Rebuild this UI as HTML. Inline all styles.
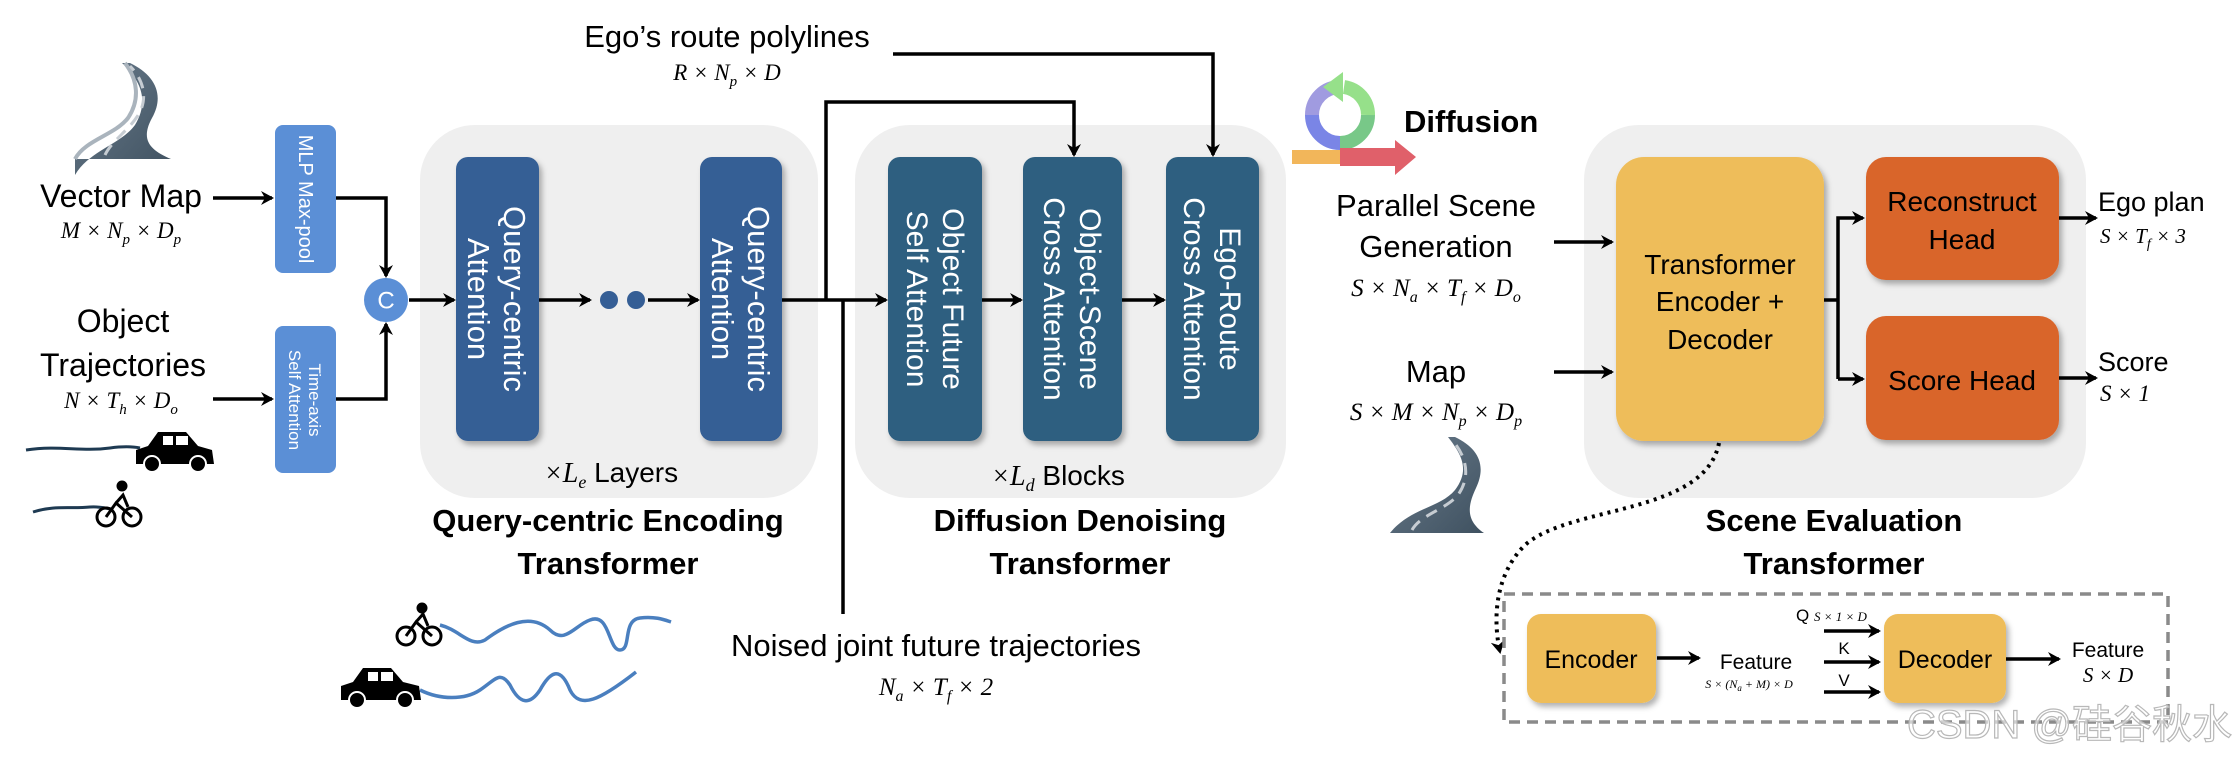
<!DOCTYPE html>
<html><head><meta charset="utf-8"><style>
html,body{margin:0;padding:0;background:#fff}
svg{display:block}
text{font-family:"Liberation Sans",sans-serif}
.m{font-family:"Liberation Serif",serif;font-style:italic}
</style></head><body>
<svg width="2236" height="758" viewBox="0 0 2236 758" xmlns="http://www.w3.org/2000/svg">
<defs>
<marker id="ah" markerWidth="14" markerHeight="14" refX="11" refY="7" orient="auto" markerUnits="userSpaceOnUse"><path d="M0,0 L13,7 L0,14 L4,7 Z" fill="#000"/></marker>
<filter id="sh" x="-10%" y="-10%" width="130%" height="130%"><feDropShadow dx="3" dy="4" stdDeviation="3" flood-color="#000" flood-opacity="0.3"/></filter>
<linearGradient id="rd" x1="0" y1="0" x2="1" y2="1"><stop offset="0" stop-color="#6a7c8c"/><stop offset="1" stop-color="#3f5160"/></linearGradient>
</defs>

<rect x="420" y="125" width="398" height="373" rx="55" fill="#efefef"/>
<rect x="855" y="125" width="431" height="373" rx="55" fill="#efefef"/>
<rect x="1584" y="125" width="502" height="373" rx="55" fill="#efefef"/>

<!-- road icon 1 -->
<g>
<path d="M122,63 C140,80 150,100 135,125 C120,145 90,150 75,175 L75,159 L171,159 C150,150 140,140 152,118 C165,95 155,75 130,63 Z" fill="url(#rd)"/>
<path d="M75,159 C85,140 115,135 128,118 C140,100 138,80 125,63" fill="none" stroke="#aab4bd" stroke-width="4"/>
<path d="M105,155 C112,140 130,130 140,112 C148,95 142,78 130,66" fill="none" stroke="#c6ccd2" stroke-width="3" stroke-dasharray="12,8"/>
</g>

<text x="121" y="207" font-size="32" text-anchor="middle">Vector Map</text>
<text x="121" y="238" font-size="23" text-anchor="middle" class="m">M × N<tspan font-size="15" dy="6">p</tspan><tspan dy="-6"> × D</tspan><tspan font-size="15" dy="6">p</tspan></text>
<text x="123" y="332" font-size="32" text-anchor="middle">Object</text>
<text x="123" y="376" font-size="32" text-anchor="middle">Trajectories</text>
<text x="121" y="408" font-size="23" text-anchor="middle" class="m">N × T<tspan font-size="15" dy="6">h</tspan><tspan dy="-6"> × D</tspan><tspan font-size="15" dy="6">o</tspan></text>

<path d="M26,450 C60,445 80,452 110,448 C125,446 135,447 140,448" fill="none" stroke="#1e3a52" stroke-width="3"/>
<g transform="translate(136,430)">
<path d="M0,20 L12,16 L22,2 L50,2 L62,16 L76,20 L78,34 L0,34 Z" fill="#000"/>
<rect x="27" y="6" width="10" height="9" fill="#fff"/><rect x="40" y="6" width="12" height="9" fill="#fff"/>
<circle cx="16" cy="34" r="8" fill="#000" stroke="#fff" stroke-width="2"/><circle cx="62" cy="34" r="8" fill="#000" stroke="#fff" stroke-width="2"/>
</g>
<path d="M33,512 C55,505 70,509 90,507 C100,506 108,509 112,509" fill="none" stroke="#1e3a52" stroke-width="3"/>
<g transform="translate(96,481)" fill="none" stroke="#000" stroke-width="3">
<circle cx="10" cy="36" r="9"/><circle cx="36" cy="36" r="9"/>
<path d="M10,36 L20,22 L36,36 M20,22 L27,14 L32,26"/>
<circle cx="26" cy="5" r="4" fill="#000"/>
</g>

<rect x="275" y="125" width="61" height="148" rx="8" fill="#5b8fd6"/>
<text transform="translate(305,199) rotate(90)" font-size="20" fill="#fff" text-anchor="middle" dominant-baseline="central">MLP Max-pool</text>
<rect x="275" y="326" width="61" height="147" rx="8" fill="#5b8fd6"/>
<text transform="translate(305,400) rotate(90)" font-size="17" fill="#fff" text-anchor="middle"><tspan x="0" y="-4">Time-axis</tspan><tspan x="0" y="16">Self Attention</tspan></text>

<g stroke="#000" stroke-width="3.5" fill="none">
<line x1="213" y1="198" x2="272" y2="198" marker-end="url(#ah)"/>
<polyline points="336,198 386,198 386,276" marker-end="url(#ah)"/>
<line x1="213" y1="399" x2="272" y2="399" marker-end="url(#ah)"/>
<polyline points="336,399 386,399 386,324" marker-end="url(#ah)"/>
<line x1="409" y1="300" x2="454" y2="300" marker-end="url(#ah)"/>
<line x1="539" y1="300" x2="590" y2="300" marker-end="url(#ah)"/>
<line x1="648" y1="300" x2="698" y2="300" marker-end="url(#ah)"/>
<line x1="782" y1="300" x2="886" y2="300" marker-end="url(#ah)"/>
<polyline points="826,300 826,102 1074,102 1074,155" marker-end="url(#ah)"/>
<line x1="843" y1="300" x2="843" y2="614"/>
<polyline points="893,54 1213,54 1213,155" marker-end="url(#ah)"/>
<line x1="982" y1="300" x2="1021" y2="300" marker-end="url(#ah)"/>
<line x1="1122" y1="300" x2="1164" y2="300" marker-end="url(#ah)"/>
</g>
<circle cx="386" cy="300" r="22" fill="#5b8fd6"/>
<text x="386" y="301" font-size="24" fill="#fff" text-anchor="middle" dominant-baseline="central">C</text>

<rect x="456" y="157" width="83" height="284" rx="12" fill="#355e95" filter="url(#sh)"/>
<text transform="translate(497,299) rotate(90)" font-size="31" fill="#fff" text-anchor="middle" dominant-baseline="central"><tspan x="0" y="-18">Query-centric</tspan><tspan x="0" y="18">Attention</tspan></text>
<rect x="700" y="157" width="82" height="284" rx="12" fill="#355e95" filter="url(#sh)"/>
<text transform="translate(741,299) rotate(90)" font-size="31" fill="#fff" text-anchor="middle" dominant-baseline="central"><tspan x="0" y="-18">Query-centric</tspan><tspan x="0" y="18">Attention</tspan></text>
<circle cx="609" cy="300" r="9" fill="#355e95"/><circle cx="636" cy="300" r="9" fill="#355e95"/>
<text x="611" y="482" font-size="28" text-anchor="middle"><tspan class="m">×L</tspan><tspan class="m" font-size="18" dy="6">e</tspan><tspan dy="-6"> Layers</tspan></text>
<text x="608" y="531" font-size="31" font-weight="bold" text-anchor="middle">Query-centric Encoding</text>
<text x="608" y="574" font-size="31" font-weight="bold" text-anchor="middle">Transformer</text>

<text x="727" y="47" font-size="31" text-anchor="middle">Ego’s route polylines</text>
<text x="727" y="80" font-size="23" text-anchor="middle" class="m">R × N<tspan font-size="15" dy="6">p</tspan><tspan dy="-6"> × D</tspan></text>

<rect x="888" y="157" width="94" height="284" rx="12" fill="#2d5f80" filter="url(#sh)"/>
<text transform="translate(935,299) rotate(90)" font-size="30" fill="#fff" text-anchor="middle" dominant-baseline="central"><tspan x="0" y="-18">Object Future</tspan><tspan x="0" y="18">Self Attention</tspan></text>
<rect x="1023" y="157" width="99" height="284" rx="12" fill="#2d5f80" filter="url(#sh)"/>
<text transform="translate(1072,299) rotate(90)" font-size="30" fill="#fff" text-anchor="middle" dominant-baseline="central"><tspan x="0" y="-18">Object-Scene</tspan><tspan x="0" y="18">Cross Attention</tspan></text>
<rect x="1166" y="157" width="93" height="284" rx="12" fill="#2d5f80" filter="url(#sh)"/>
<text transform="translate(1212,299) rotate(90)" font-size="30" fill="#fff" text-anchor="middle" dominant-baseline="central"><tspan x="0" y="-18">Ego-Route</tspan><tspan x="0" y="18">Cross Attention</tspan></text>
<text x="1058" y="485" font-size="28" text-anchor="middle"><tspan class="m">×L</tspan><tspan class="m" font-size="18" dy="6">d</tspan><tspan dy="-6"> Blocks</tspan></text>
<text x="1080" y="531" font-size="31" font-weight="bold" text-anchor="middle">Diffusion Denoising</text>
<text x="1080" y="574" font-size="31" font-weight="bold" text-anchor="middle">Transformer</text>

<path d="M440,625 C460,630 470,648 485,640 C505,625 530,612 550,630 C565,645 575,625 590,620 C610,612 608,650 620,650 C632,650 622,620 640,618 C655,616 665,620 671,622" fill="none" stroke="#4a7fbf" stroke-width="3.5"/>
<path d="M420,690 C440,700 465,700 480,690 C495,680 500,670 510,685 C520,705 530,705 540,690 C550,672 560,665 570,690 C580,710 600,700 636,672" fill="none" stroke="#4a7fbf" stroke-width="3.5"/>
<g transform="translate(396,604)" fill="none" stroke="#000" stroke-width="3">
<circle cx="10" cy="32" r="9"/><circle cx="36" cy="32" r="9"/>
<path d="M10,32 L20,18 L36,32 M20,18 L27,10 L32,22"/>
<circle cx="26" cy="4" r="4" fill="#000"/>
</g>
<g transform="translate(341,666)">
<path d="M0,20 L12,16 L22,2 L50,2 L62,16 L78,20 L80,34 L0,34 Z" fill="#000"/>
<rect x="27" y="6" width="10" height="9" fill="#fff"/><rect x="40" y="6" width="12" height="9" fill="#fff"/>
<circle cx="16" cy="34" r="8" fill="#000" stroke="#fff" stroke-width="2"/><circle cx="64" cy="34" r="8" fill="#000" stroke="#fff" stroke-width="2"/>
</g>
<text x="936" y="656" font-size="31" text-anchor="middle">Noised joint future trajectories</text>
<text x="936" y="695" font-size="25" text-anchor="middle" class="m">N<tspan font-size="16" dy="6">a</tspan><tspan dy="-6"> × T</tspan><tspan font-size="16" dy="6">f</tspan><tspan dy="-6"> × 2</tspan></text>

<!-- Diffusion icon -->
<g fill="none" stroke-width="14">
<path d="M1340,87 A28,28 0 0 0 1312,115" stroke="#a09be0"/>
<path d="M1312,115 A28,28 0 0 0 1340,143" stroke="#7a85e6"/>
<path d="M1340,143 A28,28 0 0 0 1368,115" stroke="#78c888"/>
<path d="M1368,115 A28,28 0 0 0 1344,87" stroke="#96e08a"/>
</g>
<polygon points="1323,87 1343,72 1343,102" fill="#96e08a"/>
<rect x="1292" y="150" width="48" height="14" fill="#f2b65a"/>
<polygon points="1340,148 1395,148 1395,140 1416,157 1395,175 1395,166 1340,166" fill="#e0606a"/>
<text x="1404" y="132" font-size="31" font-weight="bold">Diffusion</text>

<text x="1436" y="216" font-size="31" text-anchor="middle">Parallel Scene</text>
<text x="1436" y="257" font-size="31" text-anchor="middle">Generation</text>
<text x="1436" y="296" font-size="25" text-anchor="middle" class="m">S × N<tspan font-size="16" dy="6">a</tspan><tspan dy="-6"> × T</tspan><tspan font-size="16" dy="6">f</tspan><tspan dy="-6"> × D</tspan><tspan font-size="16" dy="6">o</tspan></text>
<text x="1436" y="382" font-size="31" text-anchor="middle">Map</text>
<text x="1436" y="420" font-size="25" text-anchor="middle" class="m">S × M × N<tspan font-size="16" dy="6">p</tspan><tspan dy="-6"> × D</tspan><tspan font-size="16" dy="6">p</tspan></text>

<g>
<path d="M1448,437 C1462,455 1470,470 1455,490 C1440,508 1410,508 1390,533 L1484,533 C1465,520 1468,505 1476,488 C1487,465 1478,448 1455,437 Z" fill="url(#rd)"/>
<path d="M1412,530 C1420,515 1445,510 1458,495 C1470,478 1468,458 1452,440" fill="none" stroke="#c6ccd2" stroke-width="3" stroke-dasharray="12,8"/>
</g>

<g stroke="#000" stroke-width="3.5" fill="none">
<line x1="1554" y1="242" x2="1612" y2="242" marker-end="url(#ah)"/>
<line x1="1554" y1="372" x2="1612" y2="372" marker-end="url(#ah)"/>
<polyline points="1824,300 1838,300"/>
<polyline points="1838,379 1838,218 1863,218" marker-end="url(#ah)"/>
<line x1="1838" y1="379" x2="1863" y2="379" marker-end="url(#ah)"/>
<line x1="2059" y1="218" x2="2096" y2="218" marker-end="url(#ah)"/>
<line x1="2059" y1="378" x2="2096" y2="378" marker-end="url(#ah)"/>
</g>

<rect x="1616" y="157" width="208" height="284" rx="28" fill="#eebd5a" filter="url(#sh)"/>
<text x="1720" y="274" font-size="28" text-anchor="middle">Transformer</text>
<text x="1720" y="311" font-size="28" text-anchor="middle">Encoder +</text>
<text x="1720" y="349" font-size="28" text-anchor="middle">Decoder</text>
<rect x="1866" y="157" width="193" height="123" rx="20" fill="#d9652b" filter="url(#sh)"/>
<text x="1962" y="211" font-size="28" text-anchor="middle">Reconstruct</text>
<text x="1962" y="249" font-size="28" text-anchor="middle">Head</text>
<rect x="1866" y="316" width="193" height="124" rx="20" fill="#d9652b" filter="url(#sh)"/>
<text x="1962" y="390" font-size="28" text-anchor="middle">Score Head</text>

<text x="2098" y="211" font-size="27">Ego plan</text>
<text x="2100" y="243" font-size="21" class="m">S × T<tspan font-size="14" dy="5">f</tspan><tspan dy="-5"> × 3</tspan></text>
<text x="2098" y="371" font-size="27">Score</text>
<text x="2100" y="401" font-size="23" class="m">S × 1</text>

<text x="1834" y="531" font-size="31" font-weight="bold" text-anchor="middle">Scene Evaluation</text>
<text x="1834" y="574" font-size="31" font-weight="bold" text-anchor="middle">Transformer</text>

<path d="M1719,443 C1705,515 1570,505 1525,545 C1492,578 1494,625 1500,652" fill="none" stroke="#000" stroke-width="4" stroke-dasharray="3,5" marker-end="url(#ah)"/>

<rect x="1504" y="594" width="664" height="128" fill="none" stroke="#8a8a8a" stroke-width="3.5" stroke-dasharray="11,7"/>
<rect x="1527" y="614" width="129" height="89" rx="14" fill="#eebd5a" filter="url(#sh)"/>
<text x="1591" y="668" font-size="25" text-anchor="middle">Encoder</text>
<rect x="1884" y="614" width="122" height="89" rx="14" fill="#eebd5a" filter="url(#sh)"/>
<text x="1945" y="668" font-size="25" text-anchor="middle">Decoder</text>
<g stroke="#000" stroke-width="3.5" fill="none">
<line x1="1657" y1="658" x2="1699" y2="658" marker-end="url(#ah)"/>
<line x1="1824" y1="631" x2="1879" y2="631" marker-end="url(#ah)"/>
<line x1="1824" y1="662" x2="1879" y2="662" marker-end="url(#ah)"/>
<line x1="1824" y1="692" x2="1879" y2="692" marker-end="url(#ah)"/>
<line x1="2006" y1="659" x2="2059" y2="659" marker-end="url(#ah)"/>
</g>
<text x="1756" y="669" font-size="21" text-anchor="middle">Feature</text>
<text x="1749" y="688" font-size="12" text-anchor="middle" class="m">S × (N<tspan font-size="9" dy="3">a</tspan><tspan dy="-3"> + M) × D</tspan></text>
<text x="1796" y="621" font-size="17">Q</text>
<text x="1814" y="621" font-size="13" class="m">S × 1 × D</text>
<text x="1844" y="654" font-size="17" text-anchor="middle">K</text>
<text x="1844" y="686" font-size="17" text-anchor="middle">V</text>
<text x="2108" y="657" font-size="21" text-anchor="middle">Feature</text>
<text x="2108" y="682" font-size="21" text-anchor="middle" class="m">S × D</text>

<text x="2232" y="738" font-size="40" text-anchor="end" fill="#fff" fill-opacity="0.6" stroke="#b8b8b8" stroke-width="1.2" font-family="'Liberation Sans','Noto Sans CJK SC',sans-serif">CSDN @硅谷秋水</text>
</svg>
</body></html>
